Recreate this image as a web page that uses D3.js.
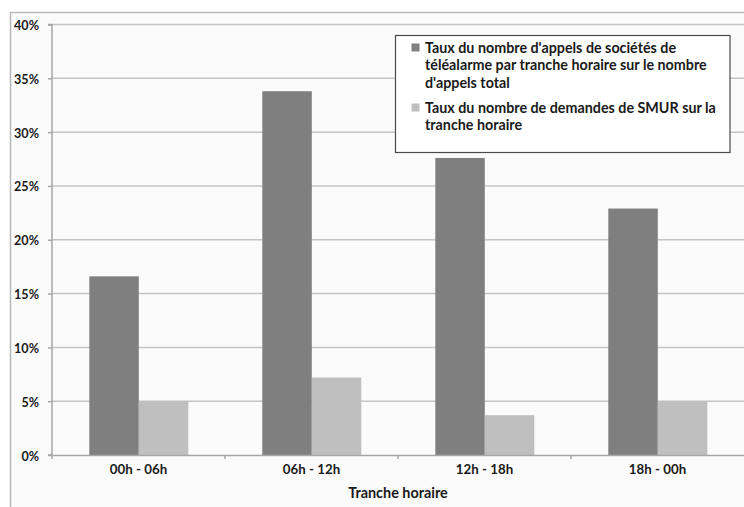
<!DOCTYPE html>
<html><head><meta charset="utf-8">
<script src="https://cdn.jsdelivr.net/npm/d3@7"></script>
<style>
html,body{margin:0;padding:0;background:#fff;}
svg{display:block;}
text{font-family:Lato,"Open Sans",sans-serif;font-weight:bold;fill:#1a1a1a;}
</style></head>
<body>
<svg id="c" width="744" height="507"></svg>
<script>
const categories = ["00h - 06h","06h - 12h","12h - 18h","18h - 00h"];
const seriesNames = ["Taux du nombre d'appels de sociétés de téléalarme par tranche horaire sur le nombre d'appels total","Taux du nombre de demandes de SMUR sur la tranche horaire"];
const legendLines = [
  ["Taux du nombre d'appels de sociétés de","téléalarme par tranche horaire sur le nombre","d'appels total"],
  ["Taux du nombre de demandes de SMUR sur la","tranche horaire"]
];
const teleAlarme = [16.6, 33.8, 27.6, 22.9];
const smur = [5.0, 7.2, 3.7, 5.0];
const yTicks = [0,5,10,15,20,25,30,35,40];
const colors = ["#7f7f7f","#bfbfbf"];
const xTitle = "Tranche horaire";

(function(){
const svg = d3.select("#c");
svg.append("rect").attr("x",0).attr("y",0).attr("width",744).attr("height",507).attr("fill","#ffffff");
svg.append("rect").attr("x",10.5).attr("y",12.5).attr("width",760).attr("height",520)
  .attr("fill","#fbfbfb").attr("stroke","#b8b8b8").attr("stroke-width",1.5);

const pL = 52, pR = 744, pT = 24.5, pB = 455;
const x = d3.scaleBand().domain(categories).range([pL,pR]).paddingInner(0).paddingOuter(0);
const y = d3.scaleLinear().domain([0,40]).range([pB,pT]);
const x1 = d3.scaleBand().domain([0,1]).range([37.3, 37.3+99]);

svg.append("g").selectAll("line").data(yTicks.filter(d=>d>0)).join("line")
  .attr("x1",pL).attr("x2",pR).attr("y1",d=>y(d)).attr("y2",d=>y(d))
  .attr("stroke","#c4c4c4").attr("stroke-width",1.5);

const data = [teleAlarme, smur];
data.forEach((vals,si)=>{
  svg.append("g").selectAll("rect").data(vals).join("rect")
    .attr("x",(d,i)=>x(categories[i])+x1(si))
    .attr("width",x1.bandwidth())
    .attr("y",d=>y(d))
    .attr("height",d=>y(0)-y(d))
    .attr("fill",colors[si]);
});

const yAxis = d3.axisLeft(y).tickValues(yTicks).tickFormat(d=>d+"%").tickSize(4).tickPadding(9);
const gy = svg.append("g").attr("transform",`translate(${pL},0)`).call(yAxis);
gy.select(".domain").attr("stroke","#a6a6a6").attr("stroke-width",1.5).attr("d",`M-4,${pT}H0V${pB}H-4`);
gy.selectAll(".tick line").attr("stroke","#a6a6a6").attr("stroke-width",1.5);
gy.selectAll("text").style("font-size","12.6px").attr("fill","#1a1a1a").attr("dy","0.4em");

const xAxis = d3.axisBottom(x).tickSize(0).tickPadding(10);
const gx = svg.append("g").attr("transform",`translate(0,${pB})`).call(xAxis);
gx.select(".domain").attr("stroke","#a6a6a6").attr("stroke-width",1.5);
gx.selectAll("text").style("font-size","13.3px").attr("fill","#1a1a1a");
svg.append("g").selectAll("line").data(categories).join("line")
  .attr("x1",d=>x(d)).attr("x2",d=>x(d)).attr("y1",pB).attr("y2",pB+4)
  .attr("stroke","#a6a6a6").attr("stroke-width",1.5);

svg.append("text").attr("x",(pL+pR)/2).attr("y",492.5).attr("dy","0.35em").attr("text-anchor","middle")
  .style("font-size","14.4px").text(xTitle);

const lg = svg.append("g");
lg.append("rect").attr("x",395.5).attr("y",35.5).attr("width",334.5).attr("height",117)
  .attr("fill","#ffffff").attr("stroke","#4a4a4a").attr("stroke-width",1.2);
const lineH = 17.8;
const entryY = [47.5, 107.5];
legendLines.forEach((lines,si)=>{
  lg.append("rect").attr("x",411.5).attr("y",entryY[si]-4).attr("width",8).attr("height",8).attr("fill",colors[si]);
  lines.forEach((t,li)=>{
    lg.append("text").attr("x",425).attr("y",entryY[si]+li*lineH).attr("dy","0.35em")
      .style("font-size","14.3px").text(t);
  });
});
})();
</script>
</body></html>
